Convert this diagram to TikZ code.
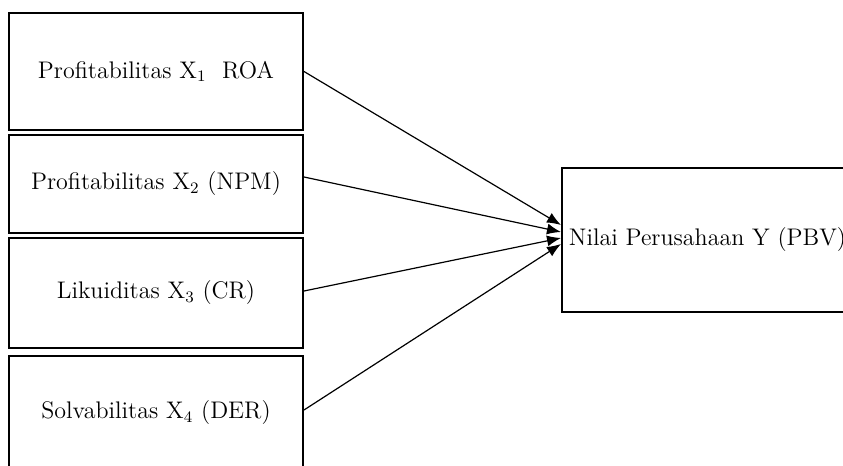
\documentclass[tikz,border=0pt]{standalone}
\usetikzlibrary{arrows.meta}

\begin{document}
\begin{tikzpicture}[x=0.5pt, y=-0.5pt,
  varbox/.style={draw, line width=1pt, minimum width=147pt, inner sep=0pt, font=\fontsize{12}{14}\selectfont},
  link/.style={-{Latex[length=7pt, width=5.5pt]}, line width=0.6pt},
]
  \useasboundingbox (0,0) rectangle (843,466);
  \clip (0,0) rectangle (843,466);

  % independent variables
  \node[varbox, minimum height=58.5pt] (roa) at (156,71.5) {Profitabilitas X\textsubscript{1}\ \ ROA};
  \node[varbox, minimum height=49pt] (npm) at (156,184) {Profitabilitas X\textsubscript{2} (NPM)};
  \node[varbox, minimum height=55pt] (cr) at (156,293) {Likuiditas X\textsubscript{3} (CR)};
  \node[varbox, minimum height=57pt] (der) at (156,413) {Solvabilitas X\textsubscript{4} (DER)};

  % dependent variable
  \node[varbox, minimum width=145.5pt, minimum height=72pt] (pbv) at (707.5,240) {Nilai Perusahaan Y (PBV)};

  \draw[link] (roa.east) -- ([yshift=7.5pt]pbv.west);
  \draw[link] ([yshift=3.5pt]npm.east) -- ([yshift=4pt]pbv.west);
  \draw[link] ([yshift=1pt]cr.east) -- ([yshift=1pt]pbv.west);
  \draw[link] ([yshift=1.5pt]der.east) -- ([yshift=-2pt]pbv.west);
\end{tikzpicture}
\end{document}
